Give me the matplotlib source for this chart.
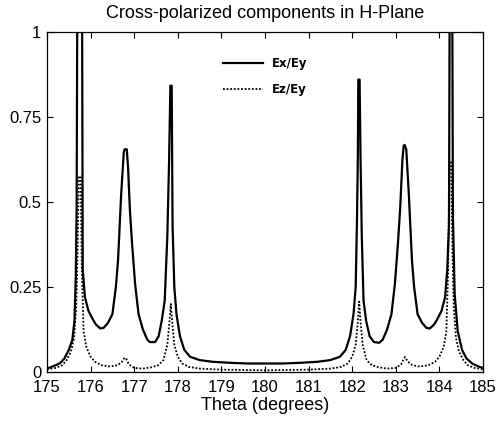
import matplotlib
matplotlib.use("Agg")
import matplotlib.pyplot as plt

title = "Cross-polarized components in H-Plane"
xlabel = "Theta (degrees)"
xticks = [175, 176, 177, 178, 179, 180, 181, 182, 183, 184, 185]
yticks = [0, 0.25, 0.5, 0.75, 1]
ytick_labels = ["0", "0.25", "0.5", "0.75", "1"]

theta_ex = [175.00, 175.10, 175.20, 175.30, 175.40, 175.50, 175.58, 175.63, 175.66, 175.68,
            175.70, 175.80, 175.82, 175.87, 175.95, 176.05, 176.12, 176.22, 176.30, 176.40,
            176.50, 176.58, 176.63, 176.70, 176.76, 176.78, 176.83, 176.86, 176.90, 176.95,
            177.02, 177.10, 177.20, 177.30, 177.36, 177.48, 177.56, 177.63, 177.70, 177.76,
            177.80, 177.83, 177.86, 177.88, 177.92, 177.97, 178.05, 178.15, 178.28, 178.50,
            178.80, 179.20, 179.60, 180.00, 180.40, 180.80, 181.20, 181.50, 181.72, 181.85,
            181.95, 182.03, 182.08, 182.11, 182.13, 182.14, 182.17, 182.19, 182.22, 182.26,
            182.32, 182.40, 182.50, 182.62, 182.70, 182.80, 182.90, 182.98, 183.05, 183.10,
            183.15, 183.18, 183.20, 183.24, 183.30, 183.37, 183.42, 183.50, 183.60, 183.70,
            183.78, 183.88, 183.95, 184.05, 184.13, 184.18, 184.20, 184.22, 184.24, 184.29,
            184.31, 184.35, 184.42, 184.52, 184.62, 184.75, 184.90, 185.00]
ratio_ex = [0.010, 0.015, 0.020, 0.026, 0.040, 0.065, 0.094, 0.150, 0.280, 0.490,
            1.300, 1.300, 0.300, 0.220, 0.180, 0.155, 0.140, 0.128, 0.130, 0.145,
            0.170, 0.250, 0.330, 0.520, 0.645, 0.655, 0.655, 0.600, 0.480, 0.380,
            0.260, 0.170, 0.125, 0.095, 0.088, 0.088, 0.105, 0.150, 0.210, 0.400,
            0.620, 0.842, 0.842, 0.430, 0.250, 0.170, 0.105, 0.065, 0.045, 0.035,
            0.030, 0.027, 0.025, 0.025, 0.025, 0.027, 0.030, 0.035, 0.045, 0.065,
            0.105, 0.170, 0.250, 0.450, 0.640, 0.860, 0.860, 0.640, 0.400, 0.210,
            0.150, 0.105, 0.088, 0.086, 0.095, 0.125, 0.170, 0.260, 0.380, 0.480,
            0.620, 0.665, 0.668, 0.655, 0.520, 0.330, 0.250, 0.170, 0.145, 0.130,
            0.128, 0.140, 0.155, 0.180, 0.220, 0.300, 0.370, 0.430, 1.300, 1.300,
            0.460, 0.230, 0.120, 0.065, 0.040, 0.025, 0.016, 0.012]

theta_ez = [175.00, 175.20, 175.35, 175.45, 175.55, 175.62, 175.67, 175.70, 175.73, 175.77,
            175.80, 175.84, 175.90, 176.00, 176.10, 176.25, 176.45, 176.62, 176.72, 176.78,
            176.82, 176.88, 177.00, 177.20, 177.40, 177.55, 177.67, 177.76, 177.81, 177.84,
            177.87, 177.92, 178.00, 178.10, 178.25, 178.50, 179.00, 180.00, 181.00, 181.50,
            181.75, 181.90, 182.00, 182.08, 182.13, 182.16, 182.19, 182.24, 182.33, 182.45,
            182.60, 182.80, 183.00, 183.12, 183.18, 183.21, 183.28, 183.38, 183.55, 183.75,
            183.90, 184.00, 184.10, 184.16, 184.20, 184.23, 184.27, 184.30, 184.33, 184.38,
            184.45, 184.55, 184.65, 184.80, 185.00]
ratio_ez = [0.008, 0.012, 0.020, 0.035, 0.060, 0.100, 0.190, 0.350, 0.575, 0.575,
            0.300, 0.120, 0.074, 0.045, 0.030, 0.020, 0.016, 0.020, 0.030, 0.042,
            0.038, 0.022, 0.012, 0.010, 0.014, 0.020, 0.035, 0.080, 0.150, 0.200,
            0.150, 0.080, 0.045, 0.025, 0.015, 0.010, 0.007, 0.005, 0.007, 0.010,
            0.015, 0.025, 0.045, 0.080, 0.150, 0.207, 0.150, 0.080, 0.035, 0.020,
            0.014, 0.010, 0.012, 0.022, 0.038, 0.044, 0.030, 0.020, 0.016, 0.020,
            0.030, 0.045, 0.074, 0.120, 0.300, 0.620, 0.620, 0.350, 0.190, 0.100,
            0.060, 0.035, 0.020, 0.012, 0.008]

plt.rcParams['font.family'] = ['Liberation Sans', 'DejaVu Sans']

fig = plt.figure(figsize=(4.98, 4.22), dpi=100)
ax = fig.add_axes([47/498, 50/422, 436/498, 340/422])

ax.plot(theta_ex, ratio_ex, color='black', lw=1.6, label='Ex/Ey')
ax.plot(theta_ez, ratio_ez, color='black', lw=1.3, linestyle=(0, (1, 1)), label='Ez/Ey')

ax.set_xlim(175, 185)
ax.set_ylim(0, 1)
ax.set_xticks(xticks)
ax.set_xticklabels([str(t) for t in xticks])
ax.set_yticks(yticks)
ax.set_yticklabels(ytick_labels)
ax.tick_params(direction='in', top=True, right=True, length=4, width=0.8,
               labelsize=12)
ax.tick_params(axis='x', pad=6)
ax.tick_params(axis='y', pad=4)
for s in ax.spines.values():
    s.set_linewidth(0.9)

ax.set_title(title, fontsize=13, pad=10)
ax.set_xlabel(xlabel, fontsize=13, labelpad=1)

leg = ax.legend(loc='upper left', bbox_to_anchor=(0.38, 0.958), frameon=False,
                handlelength=3.4, labelspacing=1.15, handletextpad=0.7,
                prop={'family': 'DejaVu Sans', 'size': 8.5, 'weight': 'bold'})

fig.savefig('out.png', dpi=100)
